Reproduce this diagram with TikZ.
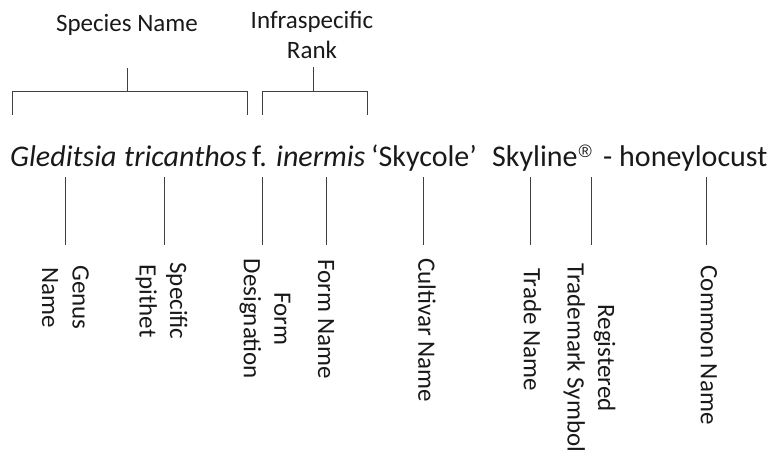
\documentclass[tikz,border=0pt]{standalone}
\usepackage{fontspec}
\setmainfont{Carlito}
\newfontfamily\regfont{Liberation Sans}
\begin{document}
\begin{tikzpicture}[x=1pt,y=-1pt,
  txt/.style={font=\fontsize{25}{30.5}\selectfont, text=black!90, inner sep=0pt},
  big/.style={font=\fontsize{30}{35}\selectfont, text=black!90, inner sep=0pt, anchor=base west},
  lbl/.style={txt, rotate=-90, align=center},
  ln/.style={line width=0.9pt, draw=black!75}]
\useasboundingbox (0,0) rectangle (772,453);
% headers
\node[txt] (sp) at (127,25) {Species Name};
\node[txt, align=center] (ir) at (312,35) {Infraspecific\\Rank};
% species bracket
\coordinate (sp1) at (12,115);
\coordinate (sp2) at (12,91);
\coordinate (sp3) at (247,91);
\coordinate (sp4) at (247,115);
\coordinate (spt) at (127,68);
\draw[ln] (sp1) -- (sp2) -- (sp3) -- (sp4);
\draw[ln] (spt) -- (spt |- sp2);
% infraspecific bracket
\coordinate (ir1) at (262,115);
\coordinate (ir2) at (262,91);
\coordinate (ir3) at (367,91);
\coordinate (ir4) at (367,115);
\coordinate (irt) at (313,67);
\draw[ln] (ir1) -- (ir2) -- (ir3) -- (ir4);
\draw[ln] (irt) -- (irt |- ir2);
% main name
\node[big] (w1) at (10,166.5) {\itshape Gleditsia};
\node[big] (w2) at (124,166.5) {\itshape tricanthos};
\node[big] (w3) at (252,166.5) {f.};
\node[big] (w4) at (276,166.5) {\itshape inermis};
\node[big] (w5) at (371,166.5) {‘Skycole’};
\node[big] (w6) at (492,166.5) {Skyline\hspace{1pt}\raisebox{9.5pt}{\regfont\fontsize{18}{18}\selectfont ®}};
\node[big] (w7) at (603,166.5) {-};
\node[big] (w8) at (619,166.5) {honeylocust};
% labels
\node[lbl] (gen) at (65.5,297.5) {Genus\\Name};
\node[lbl] (spe) at (161.5,301) {Specific\\Epithet};
\node[lbl] (fd) at (265,319) {Form\\Designation};
\node[lbl] (fn) at (326,319) {Form Name};
\node[lbl] (cv) at (427,330) {Cultivar Name};
\node[lbl] (tn) at (532.5,329.5) {Trade Name};
\node[lbl] (rt) at (589.5,358) {Registered\\Trademark Symbol};
\node[lbl] (cn) at (709,345) {Common Name};
% connectors
\foreach \n/\x in {a/65,b/164,c/262,d/326,e/423,f/530,g/591,h/706}{
  \coordinate (t\n) at (\x,177);
  \coordinate (b\n) at (\x,245);
  \draw[ln] (t\n) -- (b\n);
}
\end{tikzpicture}
\end{document}
